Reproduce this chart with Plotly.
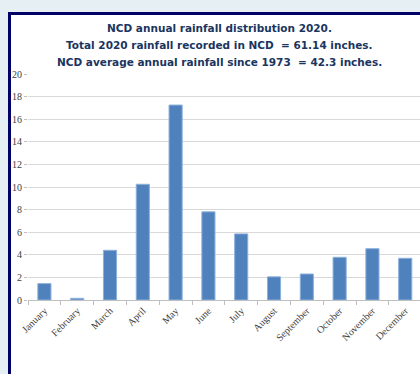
import plotly.graph_objects as go

months = ["January", "February", "March", "April", "May", "June", "July",
          "August", "September", "October", "November", "December"]
rainfall = [1.45, 0.15, 4.4, 10.24, 17.25, 7.8, 5.85, 2.05, 2.3, 3.78, 4.54, 3.69]
y_ticks = [0, 2, 4, 6, 8, 10, 12, 14, 16, 18, 20]
title_lines = [
    "NCD annual rainfall distribution 2020.",
    "Total 2020 rainfall recorded in NCD  = 61.14 inches.",
    "NCD average annual rainfall since 1973  = 42.3 inches.",
]

W, H = 420, 374
L, R, T, B = 28, 0, 74, 74
pw, ph = W - L - R, H - T - B

def px_x(x):
    return (x - L) / pw

def px_y(y):
    return (H - B - y) / ph

fig = go.Figure()
fig.add_trace(go.Bar(
    x=months, y=rainfall, width=0.4,
    marker=dict(color="#4f81bd", line=dict(color="#8db0dc", width=1)),
))

shapes = [
    dict(type="rect", xref="paper", yref="paper", layer="below",
         x0=px_x(8), x1=px_x(W + 5), y0=px_y(12), y1=px_y(H + 5),
         fillcolor="white", line=dict(width=0)),
    dict(type="rect", xref="paper", yref="paper", layer="below",
         x0=px_x(8), x1=px_x(W + 5), y0=px_y(12), y1=px_y(15),
         fillcolor="#000066", line=dict(width=0)),
    dict(type="rect", xref="paper", yref="paper", layer="below",
         x0=px_x(8), x1=px_x(11), y0=px_y(12), y1=px_y(H + 5),
         fillcolor="#000066", line=dict(width=0)),
]

annotations = []
for i, line in enumerate(title_lines):
    annotations.append(dict(
        text="<b>" + line + "</b>", xref="paper", yref="paper",
        x=px_x(219), y=px_y(28 + 17 * i), xanchor="center", yanchor="middle",
        showarrow=False, font=dict(family="DejaVu Sans", size=10.5, color="#1a3560"),
    ))

fig.update_layout(
    width=W, height=H,
    margin=dict(l=L, r=R, t=T, b=B),
    paper_bgcolor="#e6f0f4",
    plot_bgcolor="white",
    shapes=shapes,
    annotations=annotations,
    showlegend=False,
)
fig.update_xaxes(
    type="category", range=[-0.5, 11.45],
    tickangle=-45, tickson="boundaries", ticks="outside", ticklen=4,
    tickcolor="#bfbfbf", showline=True, linecolor="#bfbfbf", linewidth=1,
    showgrid=False,
    tickfont=dict(family="Liberation Serif", size=10, color="#404040"),
)
fig.update_yaxes(
    range=[0, 20], tickvals=y_ticks, ticks="outside", ticklen=3,
    tickcolor="#bfbfbf", showline=False, showgrid=True, gridcolor="#d9d9d9",
    gridwidth=1, zeroline=False,
    tickfont=dict(family="Liberation Serif", size=10, color="#404040"),
)

fig.write_html("out.html")
